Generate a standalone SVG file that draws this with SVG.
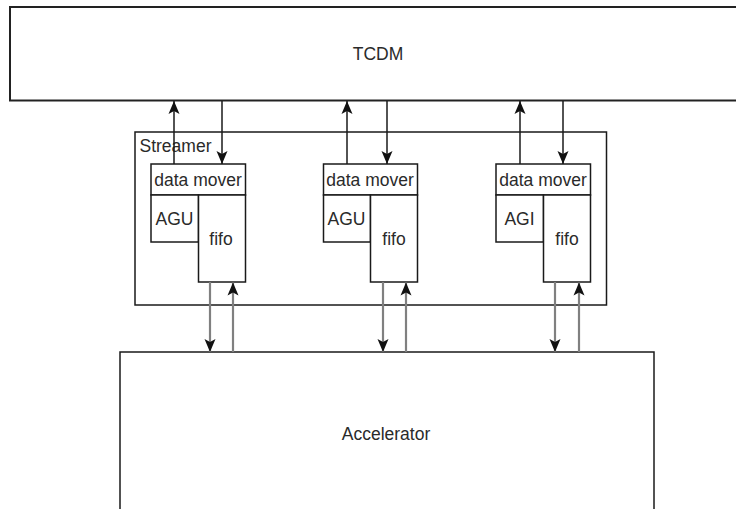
<svg xmlns="http://www.w3.org/2000/svg" width="736" height="509" viewBox="0 0 736 509">
<style>
.box{fill:#fff;stroke:#1a1a1a;stroke-width:1.5}
.t{font-family:"Liberation Sans",Arial,sans-serif;font-size:17.5px;fill:#2a2a2a}
.c{text-anchor:middle}
.dk{stroke:#1a1a1a;stroke-width:1.5;fill:none}
.gr{stroke:#808080;stroke-width:2.2;fill:none}
</style>
<defs>
<marker id="ah" viewBox="-14 -7 15 14" refX="0" refY="0" markerWidth="15" markerHeight="14" markerUnits="userSpaceOnUse" orient="auto">
<path d="M0,0 L-13,-5.5 L-10,0 L-13,5.5 Z" fill="#111"/>
</marker>
</defs>
<g id="tcdm">
<rect class="box" x="10" y="7" width="740" height="93.5" style="stroke-width:2;stroke:#222"/>
<text class="t c" x="378" y="60">TCDM</text>
</g>
<g id="accelerator">
<rect class="box" x="120" y="352" width="534" height="170"/>
<text class="t c" x="386" y="440">Accelerator</text>
</g>
<g id="streamer">
<rect class="box" x="135" y="132" width="471.5" height="173"/>
<text class="t" x="139.5" y="152">Streamer</text>
</g>
<g id="dm1"><rect class="box" x="151" y="164" width="94.5" height="31"/><text class="t c" x="198" y="186">data mover</text></g>
<g id="agu1"><rect class="box" x="151" y="195" width="47.5" height="47"/><text class="t c" x="174.5" y="225">AGU</text></g>
<g id="fifo1"><rect class="box" x="198.5" y="195" width="47" height="87"/><text class="t c" x="221" y="245">fifo</text></g>
<g id="dm2"><rect class="box" x="323.5" y="164" width="94" height="31"/><text class="t c" x="370" y="186">data mover</text></g>
<g id="agu2"><rect class="box" x="323.5" y="195" width="47" height="47"/><text class="t c" x="346.5" y="225">AGU</text></g>
<g id="fifo2"><rect class="box" x="370.5" y="195" width="47" height="87"/><text class="t c" x="394" y="245">fifo</text></g>
<g id="dm3"><rect class="box" x="496" y="164" width="94.5" height="31"/><text class="t c" x="543" y="186">data mover</text></g>
<g id="agi3"><rect class="box" x="496" y="195" width="47.5" height="47"/><text class="t c" x="519.5" y="225">AGI</text></g>
<g id="fifo3"><rect class="box" x="543.5" y="195" width="47" height="87"/><text class="t c" x="567" y="245">fifo</text></g>
<g id="connectors">
<path class="dk" d="M174,164 V101" marker-end="url(#ah)"/>
<path class="dk" d="M222,101 V164" marker-end="url(#ah)"/>
<path class="dk" d="M347,164 V101" marker-end="url(#ah)"/>
<path class="dk" d="M387,101 V164" marker-end="url(#ah)"/>
<path class="dk" d="M520,164 V101" marker-end="url(#ah)"/>
<path class="dk" d="M563,101 V164" marker-end="url(#ah)"/>
<path class="gr" d="M210,282 V352" marker-end="url(#ah)"/>
<path class="gr" d="M233,352 V282.5" marker-end="url(#ah)"/>
<path class="gr" d="M383,282 V352" marker-end="url(#ah)"/>
<path class="gr" d="M406,352 V282.5" marker-end="url(#ah)"/>
<path class="gr" d="M555,282 V352" marker-end="url(#ah)"/>
<path class="gr" d="M579,352 V282.5" marker-end="url(#ah)"/>
</g>
</svg>
